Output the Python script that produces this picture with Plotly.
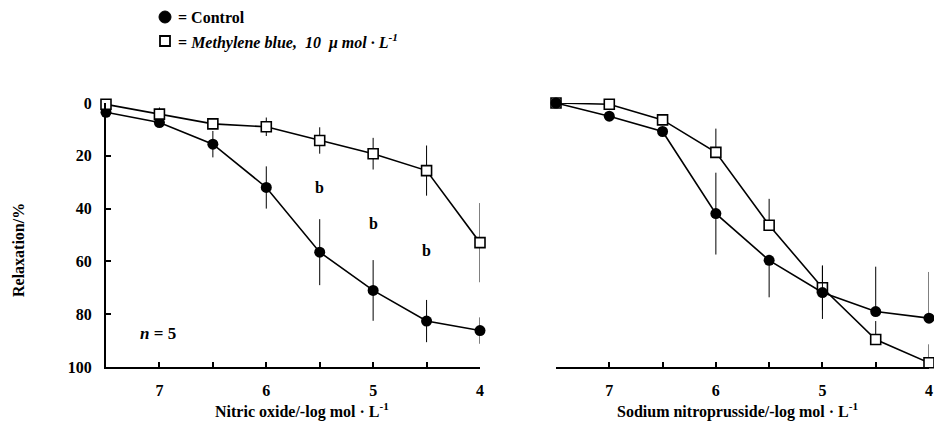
import plotly.graph_objects as go

# ---------------- data ----------------
conc = [7.5, 7, 6.5, 6, 5.5, 5, 4.5, 4]

# Nitric oxide panel
no_ctrl = [3.5, 7.4, 15.6, 32, 56.5, 71, 82.6, 86.2]
no_ctrl_err = [0, 1.5, 5, 8, 12.5, 11.5, 8, 5]
no_mb = [0.5, 4.2, 7.9, 9.0, 14.2, 19.2, 25.6, 52.9]
no_mb_err = [0, 2.5, 2, 3.5, 5, 6, 9.5, 15]

# Sodium nitroprusside panel
snp_ctrl = [0, 5, 10.8, 41.9, 59.6, 71.8, 79, 81.5]
snp_ctrl_up = [0, 0, 0, 15.5, 0, 10, 17, 17.5]
snp_ctrl_down = [0, 0, 0, 15.5, 14, 10, 0, 0]
snp_mb = [0, 0.5, 6.4, 18.7, 46.3, 70, 89.6, 98.4]
snp_mb_up = [0, 0, 0, 9, 10, 8.5, 7, 7]
snp_mb_down = [0, 0, 0, 0, 0, 8.5, 0, 0]

x_tickvals = [7, 6.5, 6, 5.5, 5, 4.5, 4]
x_ticktext = ["7", " ", "6", " ", "5", " ", "4"]
y_tickvals = [0, 20, 40, 60, 80, 100]

sig_x = [5.5, 5, 4.5]
sig_y = [32, 45.5, 55.7]

FONT = "Liberation Serif"
W, H = 934, 430

fig = go.Figure()

def ctrl_trace(y, up, down, xa, ya):
    return go.Scatter(
        x=conc, y=y, xaxis=xa, yaxis=ya, mode="lines+markers",
        line=dict(color="black", width=1.6),
        marker=dict(symbol="circle", size=11, color="black"),
        error_y=dict(type="data", symmetric=False, array=down, arrayminus=up,
                     color="black", thickness=1, width=0),
        cliponaxis=False, showlegend=False)

def mb_trace(y, up, down, xa, ya):
    return go.Scatter(
        x=conc, y=y, xaxis=xa, yaxis=ya, mode="lines+markers",
        line=dict(color="black", width=1.6),
        marker=dict(symbol="square", size=10, color="white",
                    line=dict(color="black", width=1.6)),
        error_y=dict(type="data", symmetric=False, array=down, arrayminus=up,
                     color="black", thickness=1, width=0),
        cliponaxis=False, showlegend=False)

# left panel: control then MB on top
fig.add_trace(ctrl_trace(no_ctrl, no_ctrl_err, no_ctrl_err, "x", "y"))
fig.add_trace(mb_trace(no_mb, no_mb_err, no_mb_err, "x", "y"))
# right panel: MB first, control on top
fig.add_trace(mb_trace(snp_mb, snp_mb_up, snp_mb_down, "x2", "y2"))
fig.add_trace(ctrl_trace(snp_ctrl, snp_ctrl_up, snp_ctrl_down, "x2", "y2"))

top, bottom = 103, 367
ydom = [1 - bottom / H, 1 - top / H]

tickf = dict(family=FONT, size=16, color="black", weight="bold")

xcommon = dict(range=[7.5, 4], tickvals=x_tickvals, ticktext=x_ticktext,
               ticks="inside", ticklen=5, tickwidth=1.5, tickcolor="black",
               showline=True, linecolor="black", linewidth=2, showgrid=False,
               zeroline=False, ticklabelstandoff=8, tickfont=tickf,
               automargin=False)

fig.update_layout(
    width=W, height=H, margin=dict(l=0, r=0, t=0, b=0, pad=0),
    paper_bgcolor="white", plot_bgcolor="white",
    font=dict(family=FONT, color="black"),
    xaxis=dict(domain=[106 / W, 480 / W], anchor="y", **xcommon),
    yaxis=dict(domain=ydom, range=[100, 0], tickvals=y_tickvals,
               ticks="inside", ticklen=5, tickwidth=1.5, tickcolor="black",
               showline=True, linecolor="black", linewidth=2, showgrid=False,
               zeroline=False, ticklabelstandoff=9, tickfont=tickf, anchor="x",
               automargin=False),
    xaxis2=dict(domain=[556 / W, 929 / W], anchor="y2", **xcommon),
    yaxis2=dict(domain=ydom, range=[100, 0], showticklabels=False,
                showline=False, showgrid=False, zeroline=False, ticks="",
                anchor="x2", automargin=False),
)

def px(x):
    return x / W

def py(y):
    return 1 - y / H

def pann(x, y, text, size=16, xanchor="center", angle=0):
    return dict(x=px(x), y=py(y), xref="paper", yref="paper", text=text,
                xanchor=xanchor, yanchor="middle", textangle=angle,
                showarrow=False, font=dict(family=FONT, size=size, color="black"))

ann = [
    pann(18, 250, "<b>Relaxation/%</b>", angle=-90),
    pann(302, 410, "<b>Nitric oxide/-log mol · L<sup>-1</sup></b>"),
    pann(737, 410, "<b>Sodium nitroprusside/-log mol · L<sup>-1</sup></b>"),
    pann(176, 17, "<b>= Control</b>", xanchor="left"),
    pann(176, 41, "<b>= <i>Methylene blue,  10  μ mol · L<sup>-1</sup></i></b>", xanchor="left"),
    pann(158, 333, "<b><i>n</i> = 5</b>", size=17),
]
for sx, sy in zip(sig_x, sig_y):
    ann.append(dict(x=sx, y=sy, xref="x", yref="y", text="<b>b</b>",
                    showarrow=False, xanchor="center", yanchor="middle",
                    font=dict(family=FONT, size=16, color="black")))
fig.update_layout(annotations=ann)

# legend symbols
fig.add_shape(type="circle", xref="paper", yref="paper",
              x0=px(159), x1=px(171), y0=py(23), y1=py(11),
              fillcolor="black", line=dict(color="black", width=1))
fig.add_shape(type="rect", xref="paper", yref="paper",
              x0=px(160), x1=px(170), y0=py(46), y1=py(36),
              fillcolor="white", line=dict(color="black", width=1.8))

fig.write_html("out.html")
